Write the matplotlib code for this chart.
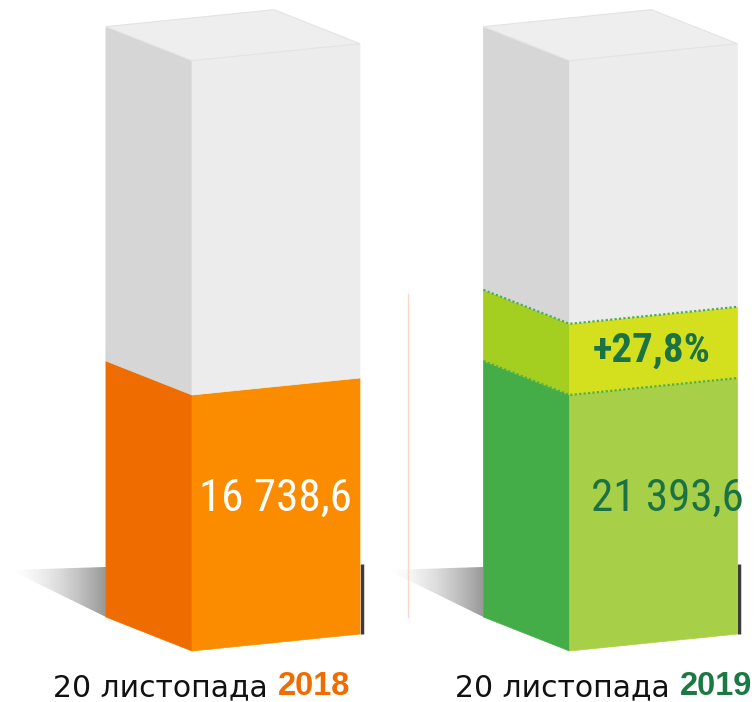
import numpy as np
import matplotlib
matplotlib.use('Agg')
import matplotlib.pyplot as plt
from matplotlib import font_manager
from matplotlib.patches import Polygon

# data
dates = ['20 листопада', '20 листопада']
years = ['2018', '2019']
values = [16738.6, 21393.6]
value_labels = ['16 738,6', '21 393,6']
growth_label = '+27,8%'
box_top = [38600, 38600]   # grey "capacity" part of each box

# look
gray_left, gray_front, gray_top = '#d6d6d6', '#ececec', '#eeeeee'
face_left = ['#ef6c00', '#45ad48']
face_front = ['#fb8c00', '#a8cf48']
band_left, band_front = '#a4cf20', '#d4e01e'
year_colors = ['#ef6c00', '#1b7a43']
value_colors = ['white', '#1b7244']

W = 0.445        # front face width
SKEW = 1110      # right edge of the front face sits higher
DX, DY = -0.228, 2223   # depth direction (left face)

names = {f.name for f in font_manager.fontManager.ttflist}
narrow = 'Liberation Sans'
for cand in ['Liberation Sans Narrow', 'Roboto Condensed', 'Open Sans Condensed', 'Arial Narrow']:
    if cand in names:
        narrow = cand
        break

fig = plt.figure(figsize=(7.55, 7.02), dpi=100)
ax = fig.add_axes([0, 0, 1, 1])
ax.set_xlim(-0.7311, 1.2689)
ax.set_ylim(-3335, 42566)
ax.axis('off')


def front(i, y0, y1):
    x0, x1 = i - W / 2, i + W / 2
    return [(x0, y0), (x1, y0 + SKEW), (x1, y1 + SKEW), (x0, y1)]


def left(i, y0, y1):
    x0 = i - W / 2
    return [(x0 + DX, y0 + DY), (x0, y0), (x0, y1), (x0 + DX, y1 + DY)]


def top(i, y1):
    x0, x1 = i - W / 2, i + W / 2
    return [(x0, y1), (x1, y1 + SKEW), (x1 + DX, y1 + SKEW + DY), (x0 + DX, y1 + DY)]


def segment(i, y0, y1, cl, cf):
    ax.add_patch(Polygon(left(i, y0, y1), closed=True, fc=cl, ec=cl, lw=0.5, zorder=3))
    ax.add_patch(Polygon(front(i, y0, y1), closed=True, fc=cf, ec=cf, lw=0.5, zorder=3))


def edge_line(i, y, color, style):
    x0, x1 = i - W / 2, i + W / 2
    ax.plot([x0 + DX, x0, x1], [y + DY, y, y + SKEW], color=color, ls=style,
            lw=1.6, zorder=5)


# gradient shadow behind every box
grad = np.linspace(0, 1, 200) ** 1.6
grad = np.tile(grad, (20, 1))
shadow_cmap = matplotlib.colors.LinearSegmentedColormap.from_list('sh', ['#ffffff', '#979797'])
for i in range(len(values)):
    bx = i - W / 2 + DX
    poly = Polygon([(bx - 0.254, DY + 3073), (bx, DY + 3270), (bx, DY)], closed=True,
                   fc='none', ec='none')
    ax.add_patch(poly)
    im = ax.imshow(grad, cmap=shadow_cmap, extent=(bx - 0.254, bx, DY, DY + 3300),
                   aspect='auto', zorder=1)
    im.set_clip_path(poly)
    # dark edge on the right side at the bottom
    xr = i + W / 2 + 0.005
    ax.plot([xr, xr], [SKEW, SKEW + 4600], color='#3c3c3c', lw=2.5, zorder=2,
            solid_capstyle='butt')

# thin divider
ax.plot([0.3497, 0.3497], [2223, 23350], color='#fcd5c8', lw=1, zorder=1)

base = values[0]
for i, v in enumerate(values):
    segment(i, 0, base, face_left[i], face_front[i])
    top_of_bar = base
    if v > base:
        segment(i, base, v, band_left, band_front)
        top_of_bar = v
    segment(i, top_of_bar, box_top[i], gray_left, gray_front)
    ax.add_patch(Polygon(top(i, box_top[i]), closed=True, fc=gray_top, ec='#e3e3e3',
                         lw=0.8, zorder=3))
    if v > base:
        edge_line(i, base, '#4caf50', (0, (1, 1)))
        edge_line(i, v, '#4caf50', (0, (1, 1)))

# value labels
value_dx = [0, 0.037]
for i, lab in enumerate(value_labels):
    ax.text(i + value_dx[i], base * 0.56 + SKEW / 2, lab, color=value_colors[i],
            fontsize=32.5, family=narrow, ha='center', va='center', zorder=6)

ax.text(1 - 0.005, (base + values[1]) / 2 + SKEW / 2, growth_label, color='#1b7244',
        fontsize=29.5, family=narrow, fontweight='bold', ha='center', va='center', zorder=6)

# date labels under the boxes
label_dx = [-0.197, -0.132]
for i in range(len(dates)):
    t = ax.text(i + label_dx[i], -2419, dates[i] + ' ', fontsize=21.5, color='#111111',
                family='DejaVu Sans', ha='center', va='center', zorder=6)
    yr = ax.annotate(years[i], xy=(1, 0), xycoords=t, va='bottom', ha='left',
                     fontsize=23.5, fontweight='bold', color=year_colors[i],
                     family='Liberation Sans', zorder=6)
    # shift the pair so that the whole label is centred
    fig.canvas.draw()
    w_yr = yr.get_window_extent().width
    t.set_position((i + label_dx[i] - w_yr / 2 / 377.5, -2419))

fig.savefig('out.png', dpi=100)
